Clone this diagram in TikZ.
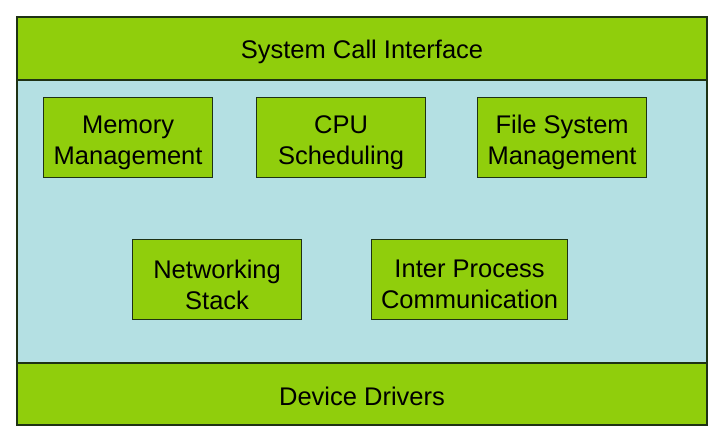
\documentclass[tikz,border=0pt]{standalone}
\usepackage{fontspec}
\setmainfont{Liberation Sans}
\definecolor{kgreen}{RGB}{144,206,12}
\definecolor{kblue}{RGB}{180,224,227}
\definecolor{kedge}{RGB}{30,50,20}
\begin{document}
\begin{tikzpicture}[x=1pt,y=-1pt,
  band/.style={draw=kedge,line width=1.2pt,fill=kgreen},
  mod/.style={draw=kedge,line width=1.2pt,fill=kgreen,minimum width=169pt,minimum height=80pt,inner sep=0pt,anchor=north west},
  lbl/.style={align=center,font=\fontsize{25.5}{31}\selectfont,inner sep=0pt}]
\useasboundingbox (0,0) rectangle (725,438);
\fill[kblue,draw=kedge,line width=1.2pt] (17,17) rectangle (707,425);
\draw[band] (17,17) rectangle (707,80);
\draw[band] (17,363) rectangle (707,425);
\node[lbl] (sci) at (362,52) {System Call Interface};
\node[lbl] (dd) at (362,396) {Device Drivers};
\node[mod] (mem) at (43,97) {};
\node[mod] (cpu) at (256,97) {};
\node[mod] (fs) at (477,97) {};
\node[mod] (net) at (132,239) {};
\node[mod,minimum width=196pt] (ipc) at (371,239) {};
\node[lbl] (memt) at ([yshift=-5pt]mem.center) {Memory\\Management};
\node[lbl] (cput) at ([yshift=-5pt]cpu.center) {CPU\\Scheduling};
\node[lbl] (fst) at ([yshift=-5pt]fs.center) {File System\\Management};
\node[lbl] (nett) at ([yshift=-5pt]net.center) {Networking\\Stack};
\node[lbl] (ipct) at ([yshift=-5pt]ipc.center) {Inter Process\\Communication};
\end{tikzpicture}
\end{document}
